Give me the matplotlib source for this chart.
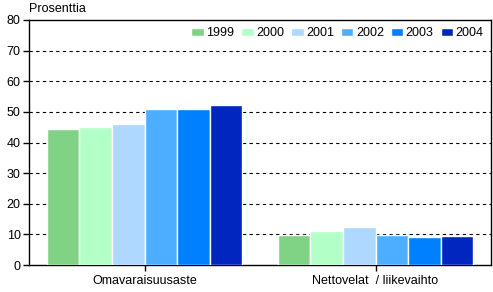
import matplotlib
matplotlib.use("Agg")
import matplotlib.pyplot as plt
import numpy as np

categories = ["Omavaraisuusaste", "Nettovelat  / liikevaihto"]
years = ["1999", "2000", "2001", "2002", "2003", "2004"]
values = {
    "1999": [44.4, 9.8],
    "2000": [44.9, 11.2],
    "2001": [46.1, 12.5],
    "2002": [50.8, 9.8],
    "2003": [51.1, 9.3],
    "2004": [52.1, 9.6],
}
colors = ["#80D384", "#B3FFC8", "#AED8FF", "#4DAEFF", "#0080FF", "#0026C0"]
yticks = [0, 10, 20, 30, 40, 50, 60, 70, 80]

plt.rcParams['font.family'] = ['Liberation Sans', 'DejaVu Sans']
fig = plt.figure(figsize=(4.93, 2.92), dpi=100)
ax = fig.add_axes([29/493, 1 - 265/292, (491-29)/493, (265-20)/292])

x = np.arange(len(categories))
bw = 0.845 / len(years)
for i, (y, c) in enumerate(zip(years, colors)):
    ax.bar(x - 0.4225 + bw * (i + 0.5), values[y], width=bw, color=c,
           edgecolor="white", linewidth=1, label=y, zorder=3)

ax.set_xlim(-0.5, 1.5)
ax.set_ylim(0, 80)
ax.set_yticks(yticks)
ax.set_xticks(x)
ax.set_xticklabels(categories, fontsize=9)
ax.tick_params(axis='y', labelsize=9, length=4, width=1, pad=2)
ax.tick_params(axis='x', length=4, width=1, pad=3)
for yy in yticks[1:-1]:
    ax.axhline(yy, color="black", linestyle=(0, (3, 3)), linewidth=0.8, zorder=1)
for s in ax.spines.values():
    s.set_linewidth(1)
    s.set_color("black")

ax.text(0.0, 1.02, "Prosenttia", transform=ax.transAxes, fontsize=9,
        ha="left", va="bottom")
leg = ax.legend(ncol=6, loc="upper right", bbox_to_anchor=(1.0, 1.0),
                frameon=False, fontsize=9, handlelength=1.0, handleheight=0.55,
                handletextpad=0.2, columnspacing=0.55, borderaxespad=0.2)
fig.savefig("out.png", dpi=100)
